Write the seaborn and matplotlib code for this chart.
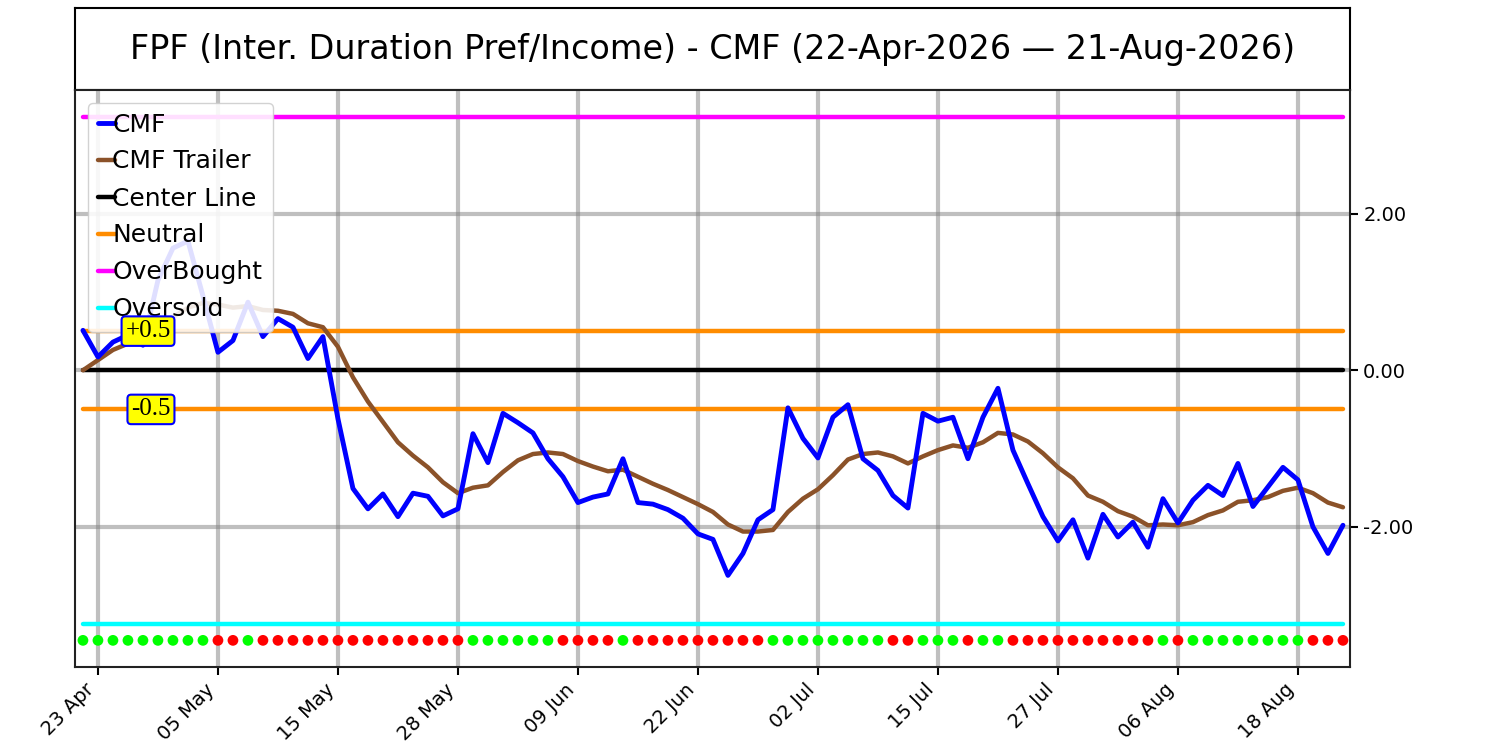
import numpy as np
import pandas as pd
import matplotlib
matplotlib.use('Agg')
import matplotlib.pyplot as plt
import seaborn as sns

sns.set_style("white")
plt.rcParams['font.family'] = ['DejaVu Sans']
plt.rcParams['text.color'] = 'black'
plt.rcParams['xtick.color'] = 'black'
plt.rcParams['ytick.color'] = 'black'
plt.rcParams['axes.labelcolor'] = 'black'

# ── Data ─────────────────────────────────────────────────────
start_date = '2026-04-22'
end_date = '2026-08-21'
holidays = ['2026-05-25', '2026-06-19', '2026-07-03']

cmf = [0.51, 0.17, 0.36, 0.45, 0.32, 1.15, 1.56, 1.65, 0.95, 0.23,
       0.38, 0.87, 0.43, 0.66, 0.55, 0.15, 0.43, -0.62, -1.51, -1.77,
       -1.58, -1.87, -1.57, -1.61, -1.86, -1.77, -0.81, -1.18, -0.55, -0.67,
       -0.80, -1.13, -1.36, -1.69, -1.62, -1.58, -1.13, -1.69, -1.71, -1.78,
       -1.89, -2.09, -2.16, -2.62, -2.34, -1.91, -1.78, -0.48, -0.87, -1.12,
       -0.60, -0.44, -1.13, -1.28, -1.60, -1.76, -0.55, -0.65, -0.60, -1.13,
       -0.60, -0.23, -1.02, -1.45, -1.87, -2.18, -1.91, -2.40, -1.84, -2.13,
       -1.94, -2.26, -1.64, -1.95, -1.66, -1.47, -1.60, -1.19, -1.74, -1.49,
       -1.24, -1.40, -2.00, -2.34, -1.98]

cmf_trailer = [0.00, 0.13, 0.26, 0.34, 0.42, 0.55, 0.68, 0.80, 0.86, 0.84,
               0.80, 0.82, 0.77, 0.76, 0.72, 0.60, 0.55, 0.30, -0.09, -0.40,
               -0.66, -0.92, -1.09, -1.24, -1.43, -1.57, -1.50, -1.47, -1.30, -1.15,
               -1.07, -1.05, -1.07, -1.16, -1.23, -1.29, -1.27, -1.36, -1.45, -1.53,
               -1.62, -1.71, -1.81, -1.97, -2.06, -2.06, -2.04, -1.81, -1.64, -1.52,
               -1.34, -1.14, -1.07, -1.05, -1.10, -1.19, -1.10, -1.02, -0.96, -0.99,
               -0.92, -0.80, -0.82, -0.91, -1.06, -1.24, -1.38, -1.60, -1.68, -1.80,
               -1.87, -1.98, -1.97, -1.98, -1.94, -1.85, -1.79, -1.68, -1.66, -1.62,
               -1.54, -1.50, -1.57, -1.69, -1.75]

# G = green dot, R = red dot (one per session)
signal = list("GGGGGGGGG" "RR" "G" "RRRRRRRRRRRRRR" "GGGGGG" "RRRR" "G"
              "RRRRRRRRR" "GGGGGGGG" "RR" "GGG" "R" "GG" "RRRRRRRRRR"
              "G" "R" "GGGGGGGG" "RRR")

center_level = 0.0
neutral_levels = [0.5, -0.5]
overbought_level = 3.24
oversold_level = -3.24
dot_level = -3.45

title = 'FPF (Inter. Duration Pref/Income) - CMF (22-Apr-2026 \u2014 21-Aug-2026)'

# ── Prepare ──────────────────────────────────────────────────
dates = pd.bdate_range(start_date, end_date)
dates = dates[~dates.isin(pd.to_datetime(holidays))]
n = len(dates)
df = pd.DataFrame({'idx': np.arange(n), 'CMF': cmf, 'Trailer': cmf_trailer,
                   'signal': signal})
tick_idx = np.arange(1, n, 8)
tick_labels = [dates[i].strftime('%d %b') for i in tick_idx]

# ── Figure ───────────────────────────────────────────────────
fig = plt.figure(figsize=(15, 7.5), dpi=100)
ax_t = fig.add_axes([0.05, 0.88, 0.85, 0.109])
ax = fig.add_axes([0.05, 0.1107, 0.85, 0.7693])

ax_t.set_xticks([])
ax_t.set_yticks([])
for s in ax_t.spines.values():
    s.set_linewidth(1.5)
    s.set_color('black')
ax_t.text(0.5, 0.5, title, ha='center', va='center', fontsize=24,
          color='black', transform=ax_t.transAxes)

sns.lineplot(data=df, x='idx', y='CMF', color='blue', linewidth=3.5,
             label='CMF', ax=ax, zorder=5)
sns.lineplot(data=df, x='idx', y='Trailer', color='#8B5229', linewidth=3.2,
             label='CMF Trailer', ax=ax, zorder=4)
ax.plot(df['idx'], [center_level] * n, color='black', linewidth=3.2,
        label='Center Line', zorder=3)
ax.plot(df['idx'], [neutral_levels[0]] * n, color='#FF8C00', linewidth=3.2,
        label='Neutral', zorder=3)
ax.plot(df['idx'], [neutral_levels[1]] * n, color='#FF8C00', linewidth=3.2,
        zorder=3)
ax.plot(df['idx'], [overbought_level] * n, color='magenta', linewidth=3.2,
        label='OverBought', zorder=3)
ax.plot(df['idx'], [oversold_level] * n, color='cyan', linewidth=3.2,
        label='Oversold', zorder=3)

df['dot_y'] = dot_level
sns.scatterplot(data=df, x='idx', y='dot_y', hue='signal',
                palette={'G': '#00FF00', 'R': '#FF0000'}, s=60,
                edgecolor='none', legend=False, ax=ax, zorder=6)

for lvl, txt in zip(neutral_levels, ['+0.5', '-0.5']):
    ax.text(5.85, lvl, txt, ha='right', va='center', fontsize=18,
            family=['Liberation Serif', 'DejaVu Serif'], zorder=7,
            bbox=dict(boxstyle='round,pad=0.15,rounding_size=0.15',
                      fc='yellow', ec='blue', lw=1.5))

ax.set_xlim(-0.53, n - 0.53)
ax.set_ylim(-3.79, 3.58)
ax.set_xticks(tick_idx)
ax.set_xticklabels(tick_labels, rotation=45, ha='right', fontsize=14)
ax.set_yticks([-2, 0, 2])
ax.yaxis.set_major_formatter(plt.FuncFormatter(lambda v, _: f'{v:.2f}'))
ax.yaxis.tick_right()
ax.tick_params(axis='y', labelsize=14, length=6, width=1.5, right=True)
ax.tick_params(axis='x', length=6, width=1.5, bottom=True)
ax.set_xlabel('')
ax.set_ylabel('')
ax.grid(True, color='gray', alpha=0.5, linewidth=3)
for s in ax.spines.values():
    s.set_linewidth(1.5)
    s.set_color('#222222')

ax.legend(loc='upper left', fontsize=18, handlelength=0.7,
          handletextpad=-0.1, framealpha=0.88, borderaxespad=0.5,
          labelspacing=0.52, labelcolor='black')

plt.savefig('out.png', dpi=100)
plt.close()
